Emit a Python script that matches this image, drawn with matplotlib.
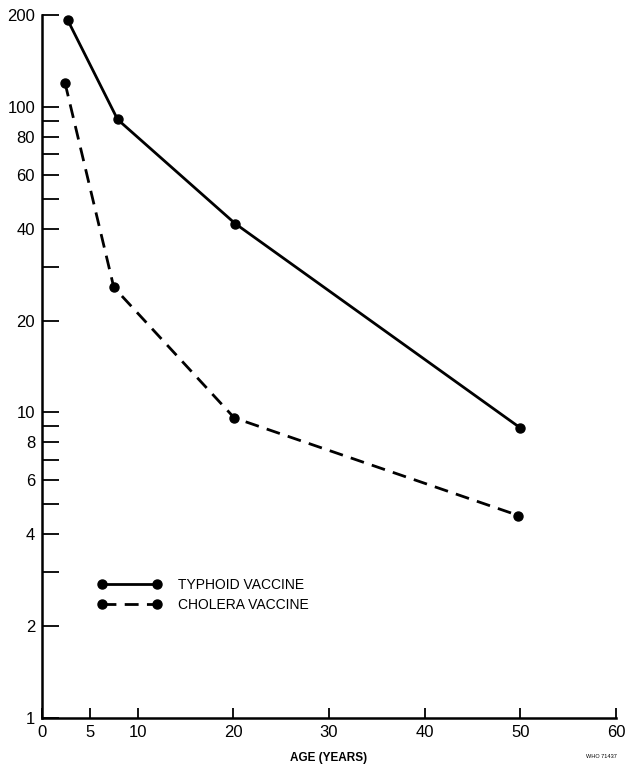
import numpy as np
import matplotlib
matplotlib.use('Agg')
import matplotlib.pyplot as plt
from matplotlib import rcParams

rcParams['font.family'] = ['Liberation Sans', 'DejaVu Sans']

# values
age_typhoid = [2.7, 7.9, 20.2, 50.0]
typhoid = [192, 91, 41.5, 8.9]
age_cholera = [2.4, 7.5, 20.1, 49.8]
cholera = [120, 25.7, 9.6, 4.6]

xticks = [0, 5, 10, 20, 30, 40, 50, 60]
yticks = [1, 2, 3, 4, 5, 6, 7, 8, 9, 10, 20, 30, 40, 50, 60, 70, 80, 90, 100, 200]
ylabeled = [1, 2, 4, 6, 8, 10, 20, 40, 60, 80, 100, 200]

fig = plt.figure(figsize=(6.3, 7.68), dpi=100)
ax = fig.add_axes([0.0667, 0.0651, 0.9111, 0.9154])

ax.plot(age_typhoid, typhoid, color='black', lw=2, ls='-', marker='o', ms=6.5,
        label='TYPHOID VACCINE')
ax.plot(age_cholera, cholera, color='black', lw=2, ls=(0, (5, 3)), marker='o', ms=6.5,
        label='CHOLERA VACCINE')

ax.set_yscale('log')
ax.set_ylim(1, 200)
ax.set_xlim(0, 60)

ax.set_xticks(xticks)
ax.set_xticklabels([str(t) for t in xticks])
ax.set_yticks(yticks)
ax.set_yticklabels([str(t) if t in ylabeled else '' for t in yticks])
ax.yaxis.set_minor_locator(matplotlib.ticker.NullLocator())

ax.tick_params(axis='y', direction='in', length=12, width=1.3, labelsize=12, pad=5)
ax.tick_params(axis='x', direction='in', length=7, width=1.3, labelsize=12, pad=5)

for s in ['top', 'right']:
    ax.spines[s].set_visible(False)
for s in ['left', 'bottom']:
    ax.spines[s].set_linewidth(1.8)

ax.set_xlabel('AGE (YEARS)', fontsize=8.5, fontweight='bold', labelpad=9)

ax.legend(loc='upper left', bbox_to_anchor=(0.075, 0.217), frameon=False, numpoints=2,
          handlelength=4.6, fontsize=10, handletextpad=1.2, labelspacing=0.45)

fig.text(0.955, 0.013, 'WHO 71437', fontsize=4, ha='center')

fig.savefig('out.png')
